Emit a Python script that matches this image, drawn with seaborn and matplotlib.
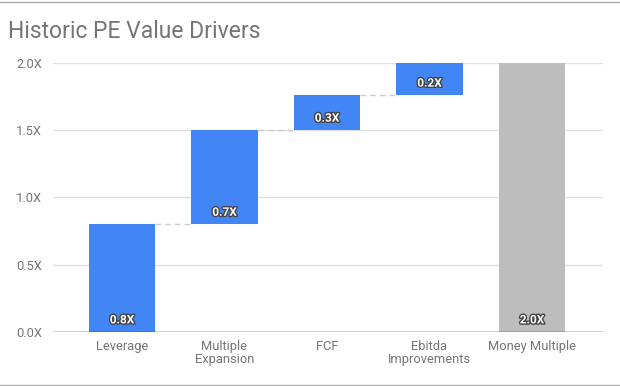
import numpy as np
import pandas as pd
import matplotlib
matplotlib.use("Agg")
import matplotlib.pyplot as plt
import matplotlib.patheffects as pe
from matplotlib.lines import Line2D
import seaborn as sns

# waterfall data
categories = ["Leverage", "Multiple\nExpansion", "FCF", "Ebitda\nImprovements", "Money Multiple"]
steps = [0.8, 0.7, 0.26, 0.24]
total = 2.0
y_ticks = [0.0, 0.5, 1.0, 1.5, 2.0]
tick_labels = ["0.0X", "0.5X", "1.0X", "1.5X", "2.0X"]

BLUE = "#4285F4"
GREY = "#BDBDBD"
TEXT = "#757575"

starts = list(np.concatenate([[0], np.cumsum(steps)[:-1]])) + [0.0]
heights = steps + [total]
df = pd.DataFrame({"category": categories, "height": heights, "start": starts})

sns.set_style("white")
plt.rcParams["font.family"] = ["Roboto", "DejaVu Sans"]

fig = plt.figure(figsize=(6.2, 3.86), dpi=100)
ax = fig.add_axes([53 / 620, 54 / 386, 550 / 620, 269 / 386])

sns.barplot(data=df, x="category", y="height", order=categories, bottom=df["start"].values,
            color=BLUE, width=0.645, saturation=1, ax=ax, zorder=3)
ax.patches[-1].set_facecolor(GREY)
for p in ax.patches:
    p.set_edgecolor("none")

# connectors between steps (none into the total bar)
ends = np.cumsum(steps)[:-1]
for i, lvl in enumerate(ends):
    x0 = i + 0.645 / 2
    x1 = i + 1 - 0.645 / 2
    ax.plot([x0, x1], [lvl, lvl], color="#cccccc", lw=1, ls=(0, (4, 3)), zorder=2)

# value labels near the bottom of each bar
for i, (s, h) in enumerate(zip(starts, heights)):
    ax.text(i, s + 0.09, f"{h:.1f}X", ha="center", va="center", fontsize=8.5,
            color="white", fontweight="bold", zorder=4,
            path_effects=[pe.withStroke(linewidth=2, foreground="#444444")])

ax.set_xlim(-0.673, 4.693)
ax.set_ylim(0, 2.0)
ax.set_yticks(y_ticks)
ax.set_yticklabels(tick_labels)
ax.yaxis.grid(True, color="#e0e0e0", lw=1, zorder=0)
ax.set_axisbelow(True)
ax.axhline(0, color="#333333", lw=1, zorder=5)
for sp in ax.spines.values():
    sp.set_visible(False)
ax.tick_params(axis="both", length=0, labelsize=9.3, colors=TEXT, pad=6)
ax.tick_params(axis="y", pad=8)
ax.set_xlabel("")
ax.set_ylabel("")
for t in ax.get_xticklabels():
    t.set_va("top")
    t.set_linespacing(1.0)

fig.text(8 / 620, 1 - 32 / 386, "Historic PE Value Drivers", fontsize=16.5, color=TEXT,
         va="center", ha="left")

# faint border lines from the screenshot
fig.add_artist(Line2D([0, 1], [1 - 1.5 / 386, 1 - 1.5 / 386], color="#aaaaaa", lw=1,
                      transform=fig.transFigure))
fig.add_artist(Line2D([0, 1], [1.5 / 386, 1.5 / 386], color="#aaaaaa", lw=1,
                      transform=fig.transFigure))

fig.savefig("out.png", dpi=100, facecolor="white")
